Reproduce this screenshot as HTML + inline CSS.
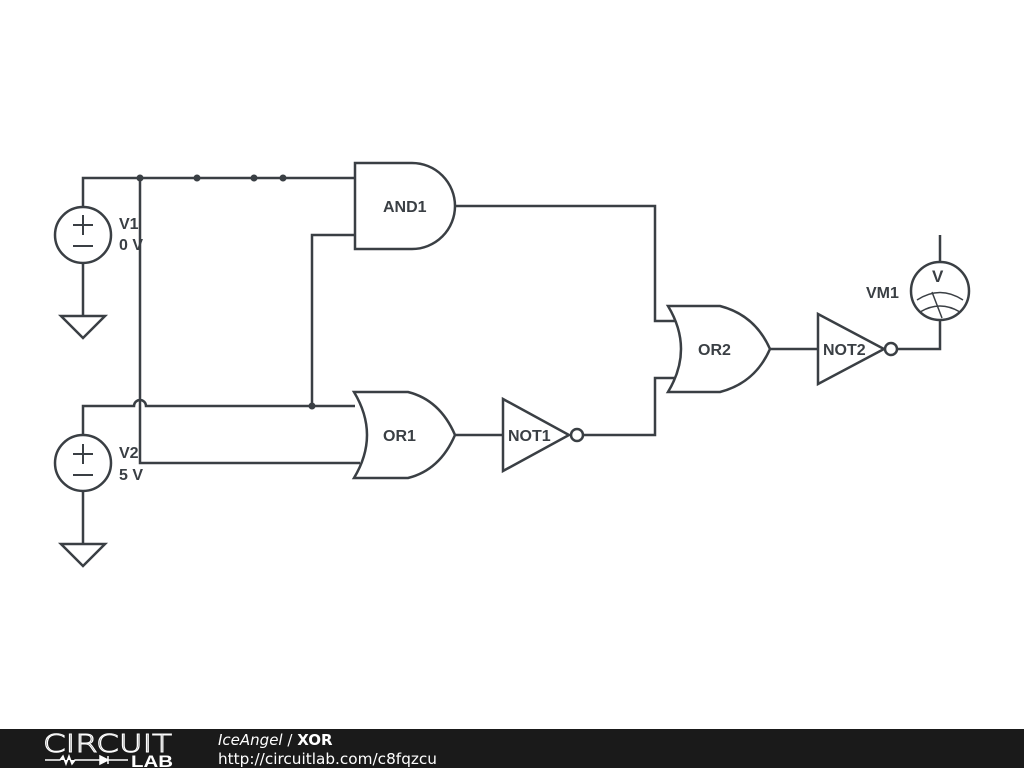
<!DOCTYPE html>
<html><head><style>
html,body{margin:0;padding:0;background:#fff;}
svg{display:block;}
.l{font-family:"Liberation Sans",sans-serif;font-weight:bold;font-size:16px;fill:#3a3f44;}
</style></head><body>
<svg width="1024" height="768" viewBox="0 0 1024 768">
<g fill="none" stroke="#3a3f44" stroke-width="2.5">
<circle cx="83" cy="235" r="28" fill="#fff"/>
<path d="M83 207V178H355M83 263V316M61 316H105L83 338Z"/>
<path d="M73 225H93M83 215V235M73 246H93" stroke-width="2"/>
<path d="M140 178V463H360"/>
<circle cx="83" cy="463" r="28" fill="#fff"/>
<path d="M83 435V406H134A6 6 0 0 1 146 406H355M83 491V544M61 544H105L83 566Z"/>
<path d="M73 454H93M83 444V464M73 475H93" stroke-width="2"/>
<path d="M355 163H412A43 43 0 0 1 412 249H355Z" fill="#fff"/>
<path d="M355 235H312V406"/>
<path d="M455 206H655V321H675"/>
<path d="M354 392H408Q440 400 455 435Q440 470 408 478H354Q380 435 354 392Z" fill="#fff"/>
<path d="M455 435H503"/>
<path d="M503 399L569 435L503 471Z" fill="#fff"/>
<circle cx="577" cy="435" r="6" fill="#fff"/>
<path d="M583 435H655V378H675"/>
<path d="M668 306H720Q755 315 770 349Q755 383 720 392H668Q694 349 668 306Z" fill="#fff"/>
<path d="M770 349H818"/>
<path d="M818 314L884 349L818 384Z" fill="#fff"/>
<circle cx="891" cy="349" r="6" fill="#fff"/>
<path d="M897 349H940V320M940 262V235"/>
<circle cx="940" cy="291" r="29" fill="#fff"/>
<path d="M917 300Q940 285 963 300M920 312Q940 300 960 312M932 292L942 318" stroke-width="1.5"/>
</g>
<g fill="#3a3f44">
<circle cx="140" cy="178" r="3.5"/><circle cx="197" cy="178" r="3.5"/>
<circle cx="254" cy="178" r="3.5"/><circle cx="283" cy="178" r="3.5"/>
<circle cx="312" cy="406" r="3.5"/>
</g>
<text class="l" x="119" y="229">V1</text>
<text class="l" x="119" y="250">0 V</text>
<text class="l" x="119" y="458">V2</text>
<text class="l" x="119" y="480">5 V</text>
<text class="l" x="383" y="212">AND1</text>
<text class="l" x="383" y="441">OR1</text>
<text class="l" x="508" y="441">NOT1</text>
<text class="l" x="698" y="355">OR2</text>
<text class="l" x="823" y="355">NOT2</text>
<text class="l" x="866" y="298">VM1</text>
<text class="l" x="932" y="282" style="font-size:17px">V</text>
<rect x="0" y="729" width="1024" height="39" fill="#1a1a1a"/>
<text x="43" y="752" textLength="129" lengthAdjust="spacingAndGlyphs" style="font-family:'DejaVu Sans',sans-serif;font-weight:200;font-size:25px;fill:none;stroke:#fff;stroke-width:1">CIRCUIT</text>
<path d="M45 760H60L63 756L66 764L69 756L72 764L75 760H100M100 756V764L108 760Z M108 756V764M108 760H128" stroke="#fff" stroke-width="1.5" fill="#fff"/>
<text x="131" y="767" textLength="42" lengthAdjust="spacingAndGlyphs" style="font-family:'Liberation Sans',sans-serif;font-weight:bold;font-size:17px;fill:#fff">LAB</text>
<text x="218" y="745" style="font-family:'DejaVu Sans',sans-serif;font-size:15px;fill:#fff"><tspan font-style="italic">IceAngel</tspan> / <tspan font-weight="bold">XOR</tspan></text>
<text x="218" y="764" textLength="219" lengthAdjust="spacingAndGlyphs" style="font-family:'DejaVu Sans',sans-serif;font-size:15px;fill:#fff">http://circuitlab.com/c8fqzcu</text>
</svg>
</body></html>
